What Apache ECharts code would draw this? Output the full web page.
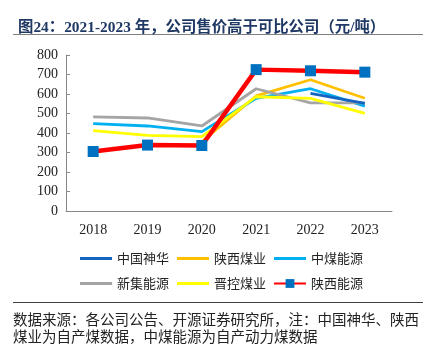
<!DOCTYPE html>
<html><head><meta charset="utf-8">
<script src="https://cdn.jsdelivr.net/npm/echarts@6/dist/echarts.min.js"></script>
<style>html,body{margin:0;padding:0;background:#fff}#c{width:434px;height:353px}</style>
</head><body><div id="c"></div>
<script>
const categories = ['2018','2019','2020','2021','2022','2023'];
const shenhua   = [null, null, null, null, 603, 552];
const shanmei   = [null, null, 355, 590, 673, 578];
const zhongmei  = [448, 436, 407, 578, 627, 538];
const xinji     = [483, 477, 436, 627, 555, 555];
const jinkong   = [412, 388, 381, 586, 578, 501];
const shanneng  = [305, 338, 336, 725, 719, 712];
const yTicks = [0, 800, 100];

const serif = '"Liberation Serif","Times New Roman",serif';
const cjk = '"Noto Sans CJK SC","Noto Sans",sans-serif';
const mixed = '"Liberation Serif","Noto Sans CJK SC",serif';
const chart = echarts.init(document.getElementById('c'));
function line(name, data, color, z) {
  return {name, type:'line', data, symbol:'none', z, connectNulls:false,
    lineStyle:{color, width:2.8}, itemStyle:{color}, emphasis:{disabled:true}};
}
const legText = {fontFamily:cjk, fontSize:13, color:'#222'};
chart.setOption({
  animation:false,
  title:{text:'图24：2021-2023 年，公司售价高于可比公司（元/吨）', left:13, top:15,
    textStyle:{fontFamily:mixed, fontSize:15.4, fontWeight:'bold', color:'#1F3864'}},
  graphic:[
    {type:'line', shape:{x1:13,y1:34.5,x2:423,y2:34.5}, style:{stroke:'#808080', lineWidth:1}},
    {type:'line', shape:{x1:13,y1:302.5,x2:423,y2:302.5}, style:{stroke:'#404040', lineWidth:1}},
    {type:'text', left:13, top:311, style:{text:'数据来源：各公司公告、开源证券研究所，注：中国神华、陕西\n煤业为自产煤数据，中煤能源为自产动力煤数据',
      font:'14.5px '+cjk, fill:'#222', lineHeight:17}}
  ],
  grid:{left:66, right:42, top:55, bottom:142},
  xAxis:{type:'category', data:categories, boundaryGap:true,
    axisLine:{lineStyle:{color:'#888', width:1}},
    axisTick:{inside:true, length:4, lineStyle:{color:'#888'}},
    axisLabel:{fontFamily:serif, fontSize:14, color:'#222', margin:12}},
  yAxis:{type:'value', min:yTicks[0], max:yTicks[1], interval:yTicks[2],
    axisLine:{show:true, lineStyle:{color:'#888', width:1}},
    axisTick:{show:true, inside:true, length:4, lineStyle:{color:'#888'}},
    splitLine:{show:false},
    axisLabel:{fontFamily:serif, fontSize:14, color:'#222', margin:8}},
  legend:[
    {data:['中国神华','陕西煤业','中煤能源'], icon:'rect', left:75, top:247, itemWidth:32, itemHeight:3, itemGap:8,
     textStyle:legText},
    {data:['新集能源','晋控煤业'], icon:'rect', left:75, top:272, itemWidth:32, itemHeight:3, itemGap:8,
     textStyle:legText},
    {data:['陕西能源'], left:268, top:272, itemWidth:32, itemHeight:11, textStyle:legText}
  ],
  series:[
    line('中国神华', shenhua, '#1565C0', 3),
    line('陕西煤业', shanmei, '#FFC000', 2),
    line('中煤能源', zhongmei, '#00B0F0', 2),
    line('新集能源', xinji, '#A5A5A5', 2),
    line('晋控煤业', jinkong, '#FFFF00', 2),
    {name:'陕西能源', type:'line', data:shanneng, symbol:'rect', symbolSize:11, z:5,
     lineStyle:{color:'#FF0000', width:4.5}, itemStyle:{color:'#0070C0'}, emphasis:{disabled:true}}
  ]
});
</script></body></html>
